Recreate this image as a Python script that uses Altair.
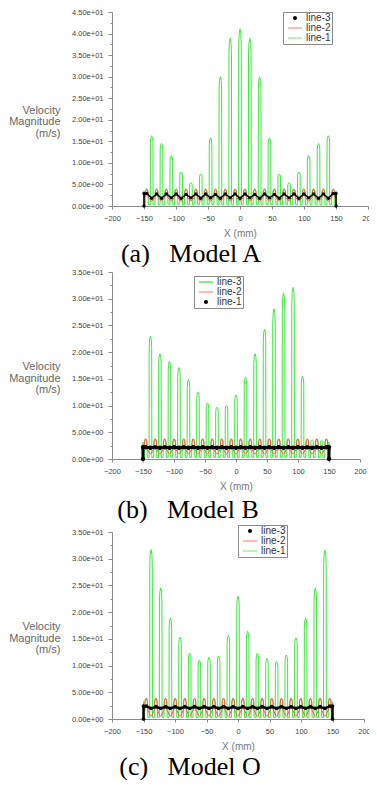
import altair as alt
import pandas as pd

# ---- data ----
PEAK_X = [-138.0, -122.7, -107.3, -92.0, -76.7, -61.3, -46.0, -30.7, -15.3, 0.0,
          15.3, 30.7, 46.0, 61.3, 76.7, 92.0, 107.3, 122.7, 138.0]
LOOP_X = [-145.7, -130.3, -115.0, -99.7, -84.3, -69.0, -53.7, -38.3, -23.0, -7.7,
          7.7, 23.0, 38.3, 53.7, 69.0, 84.3, 99.7, 115.0, 130.3, 145.7]

PEAKS_A = [16.3, 14.5, 11.7, 7.9, 5.4, 7.4, 15.8, 30.0, 38.9, 41.1, 38.9, 30.0, 15.8,
           7.4, 5.4, 7.9, 11.7, 14.5, 16.3]
PEAKS_B = [23.0, 19.7, 18.3, 17.1, 14.9, 12.5, 10.5, 9.7, 10.1, 12.0, 15.3, 19.7, 24.3,
           28.1, 31.1, 32.1, 15.5, 3.6, 3.5]
PEAKS_C = [31.7, 24.5, 18.9, 15.3, 12.3, 11.0, 11.5, 11.8, 15.7, 23.0, 16.4, 12.3, 11.3,
           10.8, 12.0, 15.2, 18.9, 24.5, 31.6]

GREEN_BUMP = {"A": 4.0, "B": 3.7, "C": 3.8}
RED_LEVELS = {"A": (3.8, 1.1), "B": (3.8, 0.9), "C": (3.9, 0.5)}

# black series at nodes (loop, peak, loop, ... loop) : 39 values
BLACK_A = [2.9, 1.8, 2.8, 1.8, 2.8, 1.9, 2.8, 1.8, 2.7, 1.9, 2.8, 1.8, 2.8, 1.9, 2.7, 1.8,
           2.8, 1.9, 2.8, 1.8, 2.8, 1.9, 2.7, 1.8, 2.8, 1.9, 2.7, 1.8, 2.8, 1.9, 2.8, 1.8,
           2.8, 1.9, 2.8, 1.8, 2.8, 1.8, 2.9]
BLACK_B = [2.2, 2.1, 2.2, 2.1, 2.2, 2.1, 2.2, 2.1, 2.2, 2.1, 2.2, 2.1, 2.2, 2.1, 2.2, 2.1,
           2.2, 2.1, 2.2, 2.1, 2.2, 2.1, 2.2, 2.1, 2.2, 2.1, 2.2, 2.1, 2.2, 2.1, 2.2, 2.1,
           2.2, 2.1, 2.2, 2.1, 2.2, 2.1, 2.2]
BLACK_C = [2.4, 2.0, 2.3, 2.0, 2.3, 2.0, 2.3, 2.0, 2.3, 2.0, 2.3, 2.0, 2.3, 2.0, 2.3, 2.0,
           2.3, 2.0, 2.3, 2.0, 2.3, 2.0, 2.3, 2.0, 2.3, 2.0, 2.3, 2.0, 2.3, 2.0, 2.3, 2.0,
           2.3, 2.0, 2.3, 2.0, 2.3, 2.0, 2.4]
EDGE_X = [-150.0, 150.0]

LEGEND_ORDER = ["line-3", "line-2", "line-1"]
CAPTIONS = {"A": "(a)\u00a0\u00a0\u00a0Model A", "B": "(b)\u00a0\u00a0\u00a0Model B",
            "C": "(c)\u00a0\u00a0\u00a0Model O"}

GREEN = "#3ee83e"
RED = "#f05a4a"
BLACK = "#000000"

# ---- shape templates (styling of each spike) ----
SPIKE_DX = [-2.2, -2.0, -1.4, 0.0, 1.4, 2.0, 2.2]
SPIKE_F = [0.0, 0.9, 0.97, 1.0, 0.97, 0.9, 0.0]
BUMP_DX = [-2.6, -2.1, -1.1, 0.0, 1.1, 2.1, 2.6]
BUMP_F = [0.0, 0.82, 0.97, 1.0, 0.97, 0.82, 0.0]
LOOP_DX = [-2.3, -1.9, -1.0, 0.0, 1.0, 1.9, 2.3]
LOOP_F = [0.35, 0.8, 0.96, 1.0, 0.96, 0.8, 0.35]
FLOOR = 0.3


def green_df(peaks, bump):
    pts = [(EDGE_X[0], 0.0), (EDGE_X[0], bump * 0.85)]
    for k, lx in enumerate(LOOP_X):
        for dx, f in zip(BUMP_DX, BUMP_F):
            pts.append((lx + dx, FLOOR + (bump - FLOOR) * f))
        if k < len(PEAK_X):
            h = peaks[k]
            for dx, f in zip(SPIKE_DX, SPIKE_F):
                pts.append((PEAK_X[k] + dx, FLOOR + (h - FLOOR) * f))
    pts += [(EDGE_X[1], bump * 0.85), (EDGE_X[1], 0.0)]
    return pd.DataFrame({"x": [p[0] for p in pts], "y": [p[1] for p in pts],
                         "i": list(range(len(pts)))})


def red_df(levels):
    top, bot = levels
    pts = [(EDGE_X[0], 0.0), (EDGE_X[0], top * 0.7)]
    for k, lx in enumerate(LOOP_X):
        for dx, f in zip(LOOP_DX, LOOP_F):
            pts.append((lx + dx, bot + (top - bot) * f))
        if k < len(PEAK_X):
            pts.append((PEAK_X[k] - 1.2, bot + 0.15))
            pts.append((PEAK_X[k], bot))
            pts.append((PEAK_X[k] + 1.2, bot + 0.15))
    pts += [(EDGE_X[1], top * 0.7), (EDGE_X[1], 0.0)]
    return pd.DataFrame({"x": [p[0] for p in pts], "y": [p[1] for p in pts],
                         "i": list(range(len(pts)))})


def black_df(vals, name):
    nodes = []
    for k, lx in enumerate(LOOP_X):
        nodes.append(lx)
        if k < len(PEAK_X):
            nodes.append(PEAK_X[k])
    xs = [EDGE_X[0], EDGE_X[0]] + nodes + [EDGE_X[1], EDGE_X[1]]
    ys = [0.0, vals[0]] + list(vals) + [vals[-1], 0.0]
    return pd.DataFrame({"x": xs, "y": ys, "i": list(range(len(xs))), "series": name})


LINE_PATH = "M-1.75,-0.15H1.75V0.15H-1.75Z"
DOT_PATH = "M0.5,0A0.5,0.5,0,1,1,-0.5,0A0.5,0.5,0,1,1,0.5,0Z"

FONT = "Liberation Sans"


def panel(key, peaks, black_vals, black_name, ymax, w, h, colors, shapes,
          legend_xy, legend_pad, dot_size, black_w, cap_dx, cap_offset):
    yvals = [v * 2.5 for v in range(int(ymax / 2.5) + 1)]
    xax = alt.Axis(values=list(range(-200, 201, 50)), grid=False, domainColor="#8a8a8a",
                   tickColor="#8a8a8a", tickSize=3, labelFontSize=7.5, labelColor="#444",
                   labelFont=FONT, labelPadding=5, labelFlush=False, labelOverlap=False,
                   title="X (mm)", titleFont=FONT, titleFontSize=10,
                   titleFontWeight="normal", titleColor="#777", titlePadding=7)
    yax = alt.Axis(values=yvals, grid=False, domainColor="#8a8a8a", tickColor="#8a8a8a",
                   tickSize={"condition": {"test": "datum.value % 5 == 0", "value": 4},
                             "value": 2},
                   labelExpr="datum.value % 5 == 0 ? replace(format(datum.value, '.2e'), 'e+', 'e+0') : ''",
                   labelFontSize=7.5, labelColor="#444", labelFont=FONT, labelPadding=5,
                   labelOverlap=False,
                   title=["Velocity", "Magnitude", "(m/s)"], titleAngle=0,
                   titleAlign="right", titleBaseline="middle", titleX=-52,
                   titleY=h / 2 + 1, titleFont=FONT, titleFontSize=11,
                   titleFontWeight="normal", titleColor="#666", titleLineHeight=11.5)
    X = alt.X("x:Q", scale=alt.Scale(domain=[-200, 200], nice=False), axis=xax)
    Y = alt.Y("y:Q", scale=alt.Scale(domain=[0, ymax], nice=False), axis=yax)

    g = alt.Chart(green_df(peaks, GREEN_BUMP[key])).mark_line(
        color=GREEN, strokeWidth=1).encode(x=X, y=Y, order="i:Q")
    r = alt.Chart(red_df(RED_LEVELS[key])).mark_line(
        color=RED, strokeWidth=1).encode(x=X, y=Y, order="i:Q")
    bd = black_df(black_vals, black_name)
    bl = alt.Chart(bd).mark_line(color=BLACK, strokeWidth=black_w).encode(
        x=X, y=Y, order="i:Q")
    legend = alt.Legend(orient="none", legendX=legend_xy[0], legendY=legend_xy[1],
                        title=None, strokeColor="#8a8a8a", fillColor="white",
                        padding=1, labelFont=FONT, labelFontSize=10, labelColor="#333",
                        symbolSize=64, rowPadding=-2, labelOffset=6, symbolOffset=6,
                        labelExpr="datum.label + '" + "\u00a0" * legend_pad + "'",
                        symbolStrokeWidth=0, cornerRadius=0)
    bp = alt.Chart(bd).mark_point(filled=True, size=dot_size, opacity=1,
                                  strokeWidth=0).encode(
        x=X, y=Y,
        color=alt.Color("series:N", scale=alt.Scale(domain=LEGEND_ORDER, range=colors),
                        legend=legend),
        shape=alt.Shape("series:N", scale=alt.Scale(domain=LEGEND_ORDER, range=shapes),
                        legend=legend),
    )
    return alt.layer(g, r, bl, bp).properties(
        width=w, height=h,
        title=alt.TitleParams(text=CAPTIONS[key], orient="bottom", anchor="middle",
                              frame="group", dx=cap_dx, font="Liberation Serif",
                              fontSize=26, fontWeight="normal", color="black",
                              offset=cap_offset),
    )


pA = panel("A", PEAKS_A, BLACK_A, "line-3", 45, 256, 194,
           [BLACK, "#ff8a8a", "#7cf07c"], [DOT_PATH, LINE_PATH, LINE_PATH],
           (171, 0), 7, 45, 1.5, -49, 2)
pB = panel("B", PEAKS_B, BLACK_B, "line-1", 35, 248, 187,
           ["#33e833", "#ff8a8a", BLACK], [LINE_PATH, LINE_PATH, DOT_PATH],
           (82, 4), 10, 75, 3, -48, 5)
pC = panel("C", PEAKS_C, BLACK_C, "line-3", 35, 252, 187,
           [BLACK, "#ff8a8a", "#7cf07c"], [DOT_PATH, LINE_PATH, LINE_PATH],
           (126, -7), 5, 55, 2.5, -48, 2)

chart = alt.vconcat(pA, pB, pC, spacing=1).resolve_scale(
    color="independent", shape="independent", x="independent", y="independent"
).resolve_legend(color="independent", shape="independent").properties(
    padding={"left": 0, "top": 0, "right": -6, "bottom": 0}
).configure_view(stroke=None)

chart.save("out.html", embed_options={"renderer": "svg", "actions": False})
